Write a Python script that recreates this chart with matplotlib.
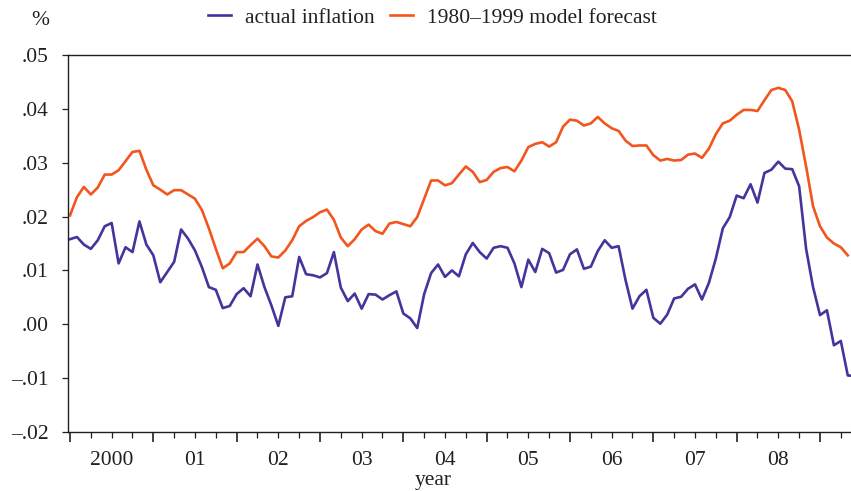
import numpy as np
import matplotlib
matplotlib.use('Agg')
import matplotlib.pyplot as plt

# ===== 数据 (月度, 2000年1月起) =====
START_YEAR = 2000

actual_inflation = [
    0.0158, 0.0162, 0.0148, 0.0140, 0.0156, 0.0182, 0.0188, 0.0113, 0.0143, 0.0134,
    0.0191, 0.0148, 0.0128, 0.0078, 0.0097, 0.0116, 0.0176, 0.0159, 0.0137, 0.0106,
    0.0069, 0.0064, 0.0030, 0.0034, 0.0056, 0.0067, 0.0052, 0.0111, 0.0069, 0.0035,
    -0.0003, 0.0050, 0.0052, 0.0125, 0.0093, 0.0091, 0.0087, 0.0095, 0.0134, 0.0068,
    0.0043, 0.0057, 0.0029, 0.0056, 0.0055, 0.0046, 0.0054, 0.0061, 0.0020, 0.0011,
    -0.0007, 0.0056, 0.0095, 0.0111, 0.0088, 0.0100, 0.0089, 0.0130, 0.0151, 0.0134,
    0.0122, 0.0142, 0.0145, 0.0142, 0.0113, 0.0069, 0.0120, 0.0097, 0.0140, 0.0132,
    0.0096, 0.0101, 0.0130, 0.0139, 0.0103, 0.0107, 0.0136, 0.0156, 0.0142, 0.0145,
    0.0082, 0.0029, 0.0052, 0.0064, 0.0012, 0.0001, 0.0018, 0.0048, 0.0051, 0.0066,
    0.0074, 0.0046, 0.0077, 0.0122, 0.0178, 0.0199, 0.0239, 0.0234, 0.0260, 0.0226,
    0.0281, 0.0287, 0.0302, 0.0289, 0.0288, 0.0256, 0.0140, 0.0069, 0.0017, 0.0026,
    -0.0039, -0.0031, -0.0095, -0.0096,
]

model_forecast = [
    0.0202, 0.0236, 0.0255, 0.0241, 0.0254, 0.0278, 0.0278, 0.0286, 0.0303, 0.0320,
    0.0322, 0.0287, 0.0258, 0.0250, 0.0241, 0.0249, 0.0249, 0.0241, 0.0233, 0.0212,
    0.0178, 0.0140, 0.0104, 0.0113, 0.0134, 0.0134, 0.0147, 0.0159, 0.0145, 0.0126,
    0.0124, 0.0137, 0.0156, 0.0182, 0.0192, 0.0199, 0.0208, 0.0213, 0.0194, 0.0161,
    0.0145, 0.0158, 0.0176, 0.0185, 0.0173, 0.0168, 0.0187, 0.0190, 0.0186, 0.0182,
    0.0199, 0.0233, 0.0267, 0.0267, 0.0258, 0.0262, 0.0278, 0.0293, 0.0283, 0.0264,
    0.0268, 0.0283, 0.0290, 0.0292, 0.0284, 0.0304, 0.0329, 0.0335, 0.0338, 0.0330,
    0.0338, 0.0367, 0.0380, 0.0378, 0.0369, 0.0373, 0.0385, 0.0373, 0.0364, 0.0359,
    0.0341, 0.0331, 0.0332, 0.0332, 0.0314, 0.0304, 0.0307, 0.0304, 0.0305, 0.0315,
    0.0317, 0.0309, 0.0326, 0.0353, 0.0373, 0.0378, 0.0389, 0.0398, 0.0398, 0.0396,
    0.0416, 0.0435, 0.0439, 0.0435, 0.0414, 0.0361, 0.0293, 0.0219, 0.0182, 0.0161,
    0.0150, 0.0143, 0.0128,
]

year_labels = ['2000', '01', '02', '03', '04', '05', '06', '07', '08']
y_ticks = [-0.02, -0.01, 0.00, 0.01, 0.02, 0.03, 0.04, 0.05]
y_ticklabels = ['\u2013.02', '\u2013.01', '.00', '.01', '.02', '.03', '.04', '.05']

BLUE = '#45349c'
ORANGE = '#f2561d'
INK = '#231f20'
FS = 15.5

plt.rcParams['font.family'] = ['Liberation Serif', 'DejaVu Serif']
plt.rcParams['font.size'] = FS
plt.rcParams['text.color'] = INK

x_act = START_YEAR + np.arange(len(actual_inflation)) / 12.0
x_fc = START_YEAR + np.arange(len(model_forecast)) / 12.0

fig = plt.figure(figsize=(8.51, 4.91), dpi=100)
ax = fig.add_axes([0.0799, 0.1202, 0.9201, 0.7678])

l1, = ax.plot(x_act, actual_inflation, color=BLUE, lw=1.9, label='actual inflation',
              solid_joinstyle='round')
l2, = ax.plot(x_fc, model_forecast, color=ORANGE, lw=1.9, label='1980\u20131999 model forecast',
              solid_joinstyle='round')

# 年份刻度: 主刻度在年初, 次刻度按季度, 年份标签放在年中
years = np.arange(2000, 2010)
ax.set_xticks(years)
ax.set_xticklabels([])
quarters = [y + q / 4 for y in range(2000, 2010) for q in (1, 2, 3)]
qlabels = []
for y in range(2000, 2010):
    for q in (1, 2, 3):
        if q == 2 and y - 2000 < len(year_labels):
            qlabels.append(year_labels[y - 2000])
        else:
            qlabels.append('')
ax.set_xticks(quarters, minor=True)
ax.set_xticklabels(qlabels, minor=True)

ax.set_yticks(y_ticks)
ax.set_yticklabels(y_ticklabels)

# 刻度会扩展范围, 最后再定范围
ax.set_xlim(1999.976, 2009.372)
ax.set_ylim(-0.02, 0.05)

ax.tick_params(axis='x', which='major', direction='out', length=7, width=1.2, color=INK)
ax.tick_params(axis='x', which='minor', direction='out', length=4, width=0.9, color=INK,
               pad=10, labelsize=FS, labelcolor=INK)
ax.tick_params(axis='y', direction='out', length=4, width=0.9, color=INK, pad=10,
               labelsize=FS, labelcolor=INK)

for s in ('left', 'bottom', 'top'):
    ax.spines[s].set_color(INK)
    ax.spines[s].set_linewidth(1.0)
ax.spines['right'].set_visible(False)

ax.set_xlabel('year', fontsize=FS, color=INK, va='center')
ax.xaxis.set_label_coords(0.466, -0.128)

fig.text(0.047, 0.959, '%', ha='center', va='center', fontsize=FS, color=INK)

fig.legend(handles=[l1, l2], loc='center', bbox_to_anchor=(0.508, 0.964), ncol=2,
           frameon=False, handlelength=1.07, handletextpad=0.65, columnspacing=0.7,
           fontsize=FS)

fig.savefig('out.png', dpi=100)
plt.close(fig)
